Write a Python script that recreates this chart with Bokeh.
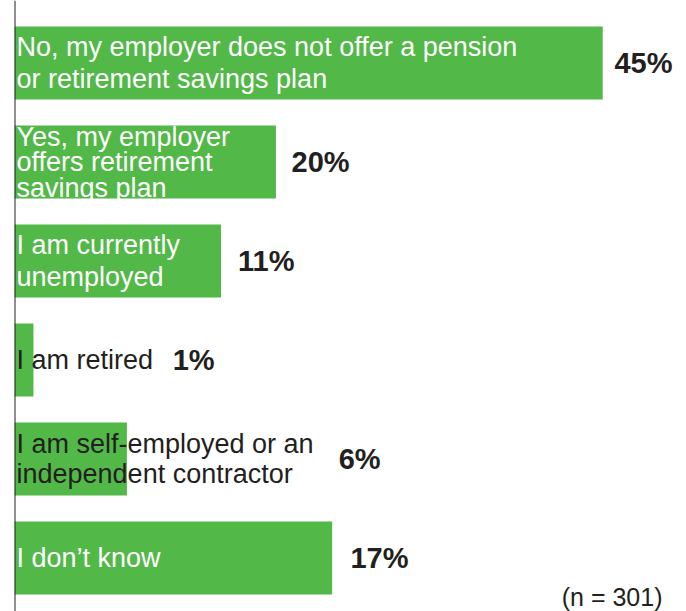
from bokeh.plotting import figure
from bokeh.models import Range1d, Span, Label, ColumnDataSource
from bokeh.core.properties import value
from bokeh.embed import file_html
from bokeh.resources import INLINE

# ---- data ----
categories = [
    "No, my employer does not offer a pension\nor retirement savings plan",
    "Yes, my employer\noffers retirement\nsavings plan",
    "I am currently\nunemployed",
    "I am retired",
    "I am self-employed or an\nindependent contractor",
    "I don\u2019t know",
]
pct_values = [45, 20, 11, 1, 6, 17]
# bar lengths as drawn in the original (in % units of the 45% bar's scale)
bar_lengths = [45.0, 20.0, 15.8, 1.45, 8.6, 24.3]
note = "(n = 301)"

# ---- layout / style ----
GREEN = "#52b848"
DARK = "#231f20"
FONT = "Liberation Sans"
label_colors = ["white", "white", "white", DARK, DARK, "white"]
line_heights = [1.074, 0.852, 1.037, 1.0, 1.0, 1.0]
pct_pos = [45.9, 21.2, 17.1, 12.1, 24.8, 25.7]

W, H = 686, 611
p = figure(width=W, height=H, output_backend="svg", toolbar_location=None,
           x_axis_location=None, y_axis_location=None,
           x_range=Range1d(0, 51.41), y_range=Range1d(5.541, -0.6325),
           min_border_left=14, min_border_right=0, min_border_top=0, min_border_bottom=0)
p.outline_line_color = None
p.grid.visible = False
p.background_fill_color = "white"
p.border_fill_color = "white"

ys = list(range(len(categories)))
src = ColumnDataSource(dict(y=ys, right=bar_lengths, cat=categories,
                            pct=[f"{v}%" for v in pct_values], px=pct_pos,
                            color=label_colors))

p.add_layout(Span(location=0, dimension="height", line_color=DARK, line_width=2))
p.hbar(y="y", left=0, right="right", height=0.738, source=src,
       fill_color=GREEN, line_color=None)

for i in ys:
    p.text(x=[0], y=[ys[i]], text=[categories[i]], x_offset=2,
           text_font=value(FONT), text_font_size="27px", text_color=label_colors[i],
           text_baseline="middle", text_align="left", text_line_height=line_heights[i])

p.text(x="px", y="y", text="pct", source=src, text_font=value(FONT),
       text_font_size="29px", text_font_style="bold", text_color=DARK,
       text_baseline="middle", text_align="left")

p.add_layout(Label(x=648, y=15, x_units="screen", y_units="screen", text=note,
                   text_font=FONT, text_font_size="25px", text_color=DARK,
                   text_align="right", text_baseline="middle"))

open("out.html", "w").write(file_html(p, INLINE))
